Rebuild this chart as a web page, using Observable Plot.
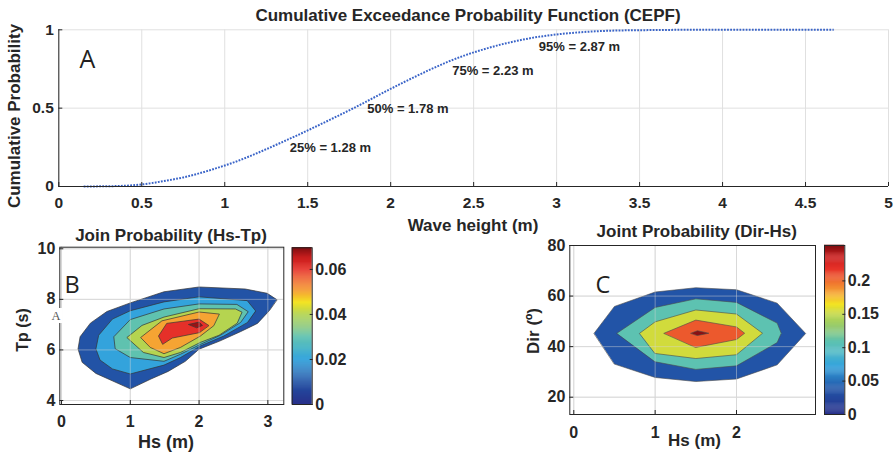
<!DOCTYPE html>
<html><head><meta charset="utf-8">
<script src="https://cdn.jsdelivr.net/npm/d3@7"></script>
<script src="https://cdn.jsdelivr.net/npm/@observablehq/plot@0.6"></script>
<style>
html,body{margin:0;padding:0;background:#fff;}
#page{position:relative;width:894px;height:453px;overflow:hidden;background:#fff;}
.panel{position:absolute;}
#overlay{position:absolute;left:0;top:0;pointer-events:none;}
</style></head><body><div id="page"></div>
<script>
// ---------------- DATA ----------------
// Panel A: cumulative probability of wave height
const cdfHs = [0.15,0.25,0.35,0.45,0.55,0.65,0.75,0.85,0.95,1.05,1.15,1.25,1.35,1.45,1.55,1.65,1.75,1.85,1.95,2.05,2.15,2.25,2.35,2.45,2.55,2.65,2.75,2.85,2.95,3.05,3.15,3.25,3.35,3.45,3.55,3.65,3.75,3.85,3.95,4.05,4.15,4.25,4.35,4.45,4.55,4.67];
const cdfP  = [0.000,0.001,0.003,0.008,0.020,0.038,0.058,0.085,0.117,0.152,0.193,0.238,0.285,0.333,0.383,0.434,0.486,0.540,0.596,0.650,0.702,0.752,0.798,0.838,0.872,0.902,0.927,0.948,0.964,0.976,0.985,0.991,0.995,0.997,0.998,0.999,1.000,1.000,1.000,1.000,1.000,1.000,1.000,1.000,1.000,1.000];
const quantLabels = ["25% = 1.28 m","50% = 1.78 m","75% = 2.23 m","95% = 2.87 m"];
const quantLabelX = [1.392,1.859,2.371,2.893];
const quantLabelY = [0.244,0.496,0.740,0.893];
const xTicksA = [0,0.5,1,1.5,2,2.5,3,3.5,4,4.5,5];
const yTicksA = [0,0.5,1];

// Panel B: joint probability Hs-Tp (filled contour levels, outer -> inner)
const hsTpLevels = [0.01,0.02,0.03,0.04,0.05,0.06,0.068];
const hsTpContours = [
  [[3.13,7.99],[2.99,8.24],[2.67,8.41],[2.0,8.49],[1.49,8.30],[1.0,7.86],[0.66,7.52],[0.42,7.06],[0.27,6.52],[0.24,6.04],[0.30,5.51],[0.50,5.07],[1.0,4.46],[1.30,4.85],[1.55,5.15],[1.80,5.55],[2.0,6.03],[2.30,6.35],[2.60,6.72],[2.85,7.05],[3.02,7.55]],
  [[2.82,7.55],[2.70,7.95],[2.0,8.10],[1.49,7.90],[1.0,7.55],[0.74,7.22],[0.54,6.58],[0.50,6.04],[0.56,5.60],[0.74,5.25],[1.0,5.05],[1.49,5.40],[1.73,5.70],[2.02,6.16],[2.36,6.55],[2.70,7.08]],
  [[2.71,7.52],[2.55,7.80],[2.0,7.82],[1.49,7.62],[1.0,7.20],[0.76,6.52],[0.78,6.05],[1.0,5.70],[1.49,5.55],[1.73,5.83],[2.02,6.22],[2.31,6.58],[2.60,7.08]],
  [[2.62,7.50],[2.53,7.62],[2.0,7.63],[1.49,7.30],[1.17,6.97],[0.95,6.49],[1.19,5.90],[1.49,5.70],[1.73,5.90],[2.02,6.30],[2.29,6.58],[2.55,7.05]],
  [[2.29,7.42],[2.0,7.50],[1.46,7.15],[1.15,6.49],[1.29,6.10],[1.49,5.85],[1.73,6.10],[2.02,6.55],[2.21,6.95]],
  [[2.14,6.97],[2.0,7.22],[1.53,7.05],[1.41,6.55],[1.47,6.22],[1.61,6.47],[2.0,6.68]],
  [[1.85,7.01],[2.0,7.10],[2.05,6.97],[1.97,6.88]]
];
const hsTpMax = 0.0696;
const xTicksB = [0,1,2,3];
const yTicksB = [4,6,8,10];
const cbTicksB = [0,0.02,0.04,0.06];

// Panel C: joint probability Dir-Hs
const dirHsLevels = [0.037,0.108,0.154,0.205,0.25];
const dirHsContours = [
  [[0.25,45.3],[0.50,55.9],[1.0,61.6],[1.5,63.3],[2.0,62.5],[2.5,57.2],[2.85,45.2],[2.5,32.8],[2.0,27.2],[1.5,26.2],[1.0,27.8],[0.50,33.1]],
  [[0.53,45.3],[1.0,55.5],[1.5,58.9],[2.0,57.5],[2.5,49.3],[2.55,45.3],[2.5,41.6],[2.0,32.4],[1.5,31.0],[1.0,34.0]],
  [[0.81,45.3],[1.0,49.8],[1.5,54.5],[2.0,52.9],[2.32,45.3],[2.0,36.8],[1.5,35.3],[1.0,37.3]],
  [[1.11,45.3],[1.5,50.5],[2.0,47.8],[2.10,45.3],[2.0,42.8],[1.5,39.7]],
  [[1.44,45.3],[1.52,46.3],[1.66,45.3],[1.52,44.4]]
];
const dirHsMax = 0.253;
const xTicksC = [0,1,2];
const yTicksC = [20,40,60,80];
const cbTicksC = [0,0.05,0.1,0.15,0.2];

// ---------------- STYLE ----------------
const jetT = [0,0.144,0.287,0.36,0.43,0.50,0.575,0.65,0.72,0.79,0.86,0.935,1];
const jetC = ["#28308a","#2253a6","#33a3dc","#4fb8c8","#5ec2b0","#8cc878","#b5d450","#f4e423","#f5a233","#ef6a2e","#e63129","#c81e1e","#7d0d10"];
const FONT = "'Liberation Sans', Arial, Helvetica, sans-serif";
const ink = "#262626";
const fmt = d => String(d);
const baseStyle = size => ({fontFamily: FONT, fontSize: size, fontWeight: "bold", color: ink, background: "none", overflow: "visible"});
const colorSpec = max => ({type: "linear", domain: jetT.map(t => t * max), range: jetC});

const page = document.getElementById("page");
function place(node, left, top) {
  const d = document.createElement("div");
  d.className = "panel"; d.style.left = left + "px"; d.style.top = top + "px";
  d.appendChild(node); page.appendChild(d);
}

// ---------------- PANEL A ----------------
const cdfRows = cdfHs.map((h, i) => ({hs: h, p: cdfP[i]}));
const qRows = quantLabels.map((t, i) => ({t, x: quantLabelX[i], y: quantLabelY[i]}));
const plotA = Plot.plot({
  width: 894, height: 240,
  marginLeft: 58.3, marginRight: 6, marginTop: 29.3, marginBottom: 54,
  x: {domain: [0, 5]}, y: {domain: [0, 1]},
  style: baseStyle("15.5px"),
  marks: [
    Plot.gridX(xTicksA, {stroke: "#e0e0e0", strokeOpacity: 1}),
    Plot.gridY(yTicksA, {stroke: "#e0e0e0", strokeOpacity: 1}),
    Plot.line(cdfRows, {x: "hs", y: "p", stroke: "#3a64c8", strokeWidth: 2, strokeDasharray: "1.8,1.3", strokeLinecap: "butt", curve: "monotone-x"}),
    Plot.text(qRows, {x: "x", y: "y", text: "t", textAnchor: "start", fontSize: 13, fontWeight: "bold", fill: ink}),
    Plot.ruleY([0], {stroke: ink}),
    Plot.ruleX([0], {stroke: ink}),
    Plot.axisX(xTicksA, {tickSize: -4, tickPadding: 14.5, tickFormat: fmt, label: null, stroke: ink}),
    Plot.axisY(yTicksA, {tickSize: -4, tickPadding: 9, tickFormat: fmt, label: null, stroke: ink})
  ]
});
place(plotA, 0, 0);

// ---------------- PANEL B ----------------
const rowsB = hsTpContours.flatMap((poly, i) => poly.map(([hs, tp]) => ({id: i, level: hsTpLevels[i], hs, tp})));
const plotB = Plot.plot({
  width: 300, height: 233,
  marginLeft: 59.3, marginRight: 16.7, marginTop: 26.7, marginBottom: 49,
  x: {domain: [-0.025, 3.232]}, y: {domain: [3.842, 10.063]},
  color: colorSpec(hsTpMax),
  style: baseStyle("16px"),
  marks: [
    Plot.gridX(xTicksB, {stroke: "#dadada", strokeOpacity: 1}),
    Plot.gridY(yTicksB, {stroke: "#dadada", strokeOpacity: 1}),
    Plot.line(rowsB, {x: "hs", y: "tp", z: "id", fill: "level", stroke: "#333", strokeWidth: 0.7, curve: "linear-closed"}),
    Plot.gridX(xTicksB, {stroke: "#d8d8d8", strokeOpacity: 0.45}),
    Plot.gridY(yTicksB, {stroke: "#d8d8d8", strokeOpacity: 0.45}),
    Plot.frame({stroke: ink}),
    Plot.axisX(xTicksB, {tickSize: -4, tickPadding: 15, tickFormat: fmt, label: null, stroke: ink}),
    Plot.axisY(yTicksB, {tickSize: -4, tickPadding: 8.5, tickFormat: fmt, label: null, stroke: ink})
  ]
});
place(plotB, 0, 220);

function colorbar(max, ticks, w, h, ml, mr, mt, mb) {
  const N = 160;
  const ramp = d3.range(N).map(i => i * max / N);
  return Plot.plot({
    width: w, height: h, marginLeft: ml, marginRight: mr, marginTop: mt, marginBottom: mb,
    x: {domain: [0, 1], axis: null}, y: {domain: [0, max]},
    color: colorSpec(max),
    style: baseStyle("16px"),
    marks: [
      Plot.rect(ramp, {x1: 0, x2: 1, y1: d => d, y2: d => d + max / N * 1.3, fill: d => d + max / N / 2}),
      Plot.frame({stroke: ink}),
      Plot.axisY(ticks, {anchor: "right", tickSize: -3, tickPadding: 6, tickFormat: fmt, label: null, stroke: ink})
    ]
  });
}
place(colorbar(hsTpMax, cbTicksB, 70, 233, 6.7, 43.3, 27.3, 49), 285, 220);

// ---------------- PANEL C ----------------
const rowsC = dirHsContours.flatMap((poly, i) => poly.map(([hs, dir]) => ({id: i, level: dirHsLevels[i], hs, dir})));
const plotC = Plot.plot({
  width: 340, height: 233,
  marginLeft: 89.3, marginRight: 5, marginTop: 25, marginBottom: 39,
  x: {domain: [-0.049, 2.971]}, y: {domain: [13.16, 80]},
  color: colorSpec(dirHsMax),
  style: baseStyle("16px"),
  marks: [
    Plot.gridX(xTicksC, {stroke: "#dadada", strokeOpacity: 1}),
    Plot.gridY(yTicksC, {stroke: "#dadada", strokeOpacity: 1}),
    Plot.line(rowsC, {x: "hs", y: "dir", z: "id", fill: "level", stroke: "#4a4a4a", strokeWidth: 0.6, curve: "linear-closed"}),
    Plot.gridX(xTicksC, {stroke: "#d8d8d8", strokeOpacity: 0.45}),
    Plot.gridY(yTicksC, {stroke: "#d8d8d8", strokeOpacity: 0.45}),
    Plot.frame({stroke: ink}),
    Plot.axisX(xTicksC, {tickSize: -4, tickPadding: 16, tickFormat: fmt, label: null, stroke: ink}),
    Plot.axisY(yTicksC, {tickSize: -4, tickPadding: 8.5, tickFormat: fmt, label: null, stroke: ink})
  ]
});
place(plotC, 480, 220);
place(colorbar(dirHsMax, cbTicksC, 76, 233, 6, 49.7, 25, 39), 818, 220);

// ---------------- TEXT OVERLAY ----------------
const ov = d3.select(page).append("svg").attr("id", "overlay").attr("width", 894).attr("height", 453);
function label(txt, x, y, size, opts = {}) {
  const t = ov.append("text").text(txt)
    .attr("font-family", opts.family || FONT)
    .attr("font-size", size)
    .attr("font-weight", opts.weight || "bold")
    .attr("fill", opts.fill || ink)
    .attr("text-anchor", opts.anchor || "middle");
  if (opts.rotate) t.attr("transform", `translate(${x},${y}) rotate(-90)`);
  else t.attr("x", x).attr("y", y);
  return t;
}
label("Cumulative Exceedance Probability Function (CEPF)", 468, 21, 17);
label("Cumulative Probability", 19.5, 116, 17, {rotate: true});
label("Wave height (m)", 473, 231, 17);
label("Join Probability (Hs-Tp)", 171, 240.7, 17);
label("Tp (s)", 28, 330, 16, {rotate: true});
label("Hs (m)", 166, 447.5, 18);
label("Joint Probability (Dir-Hs)", 696.7, 236.7, 17);
label("Dir (º)", 539, 331, 17, {rotate: true});
label("Hs (m)", 694.5, 446, 17);
const letter = {family: "'Open Sans', 'Noto Sans', sans-serif", weight: "normal", anchor: "start", fill: "#231f20"};
label("A", 79.5, 67.7, 25, letter);
label("B", 64.5, 293.3, 23.5, letter);
label("C", 595.5, 293.3, 23.5, letter);
ov.append("rect").attr("x", 50).attr("y", 308).attr("width", 12).attr("height", 15).attr("fill", "#fff");
label("A", 51.5, 320, 12.5, {family: "'Liberation Serif', 'DejaVu Serif', serif", weight: "normal", anchor: "start", fill: "#555"});
</script>
</body></html>
